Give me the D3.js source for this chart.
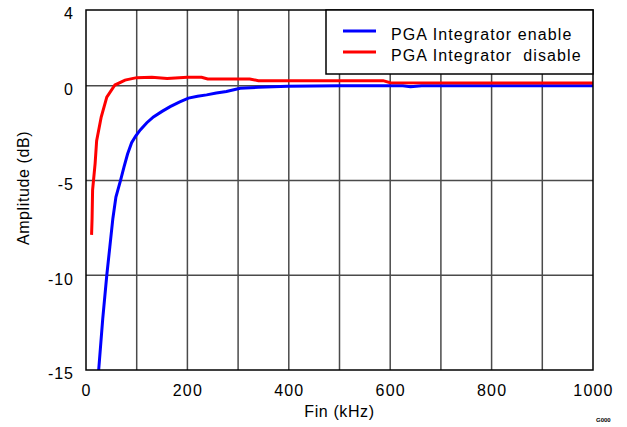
<!DOCTYPE html>
<html><head><meta charset="utf-8">
<script src="https://d3js.org/d3.v7.min.js"></script>
<style>body{margin:0;background:#fff}svg{display:block}text{font-family:Arial,"Liberation Sans",sans-serif}</style>
</head><body>
<svg id="c" width="627" height="427"></svg>
<script>
const xTicks = [0, 200, 400, 600, 800, 1000];
const xGrid = [100, 200, 300, 400, 500, 600, 700, 800, 900];
const yTicks = [4, 0, -5, -10, -15];
const yGrid = [0, -5, -10];
const seriesNames = ["PGA Integrator enable", "PGA Integrator  disable"];
const seriesColors = ["#0000ff", "#ff0000"];
// Blue: PGA Integrator enable (Fin kHz, dB)
const enableF = [25, 33, 41, 47, 53, 59, 68, 75, 82, 90, 98, 107, 120, 133, 150, 166, 185, 202, 220, 238, 257, 277, 304, 340, 398, 500, 625, 640, 662, 700, 800, 900, 1000];
const enableDb = [-15, -12.3, -10, -8.5, -7.0, -5.87, -5.0, -4.28, -3.6, -3.0, -2.65, -2.33, -1.95, -1.64, -1.35, -1.1, -0.85, -0.65, -0.55, -0.48, -0.38, -0.3, -0.13, -0.08, -0.02, 0, 0, -0.05, 0, 0, 0, 0, 0];
// Red: PGA Integrator disable
const disableF = [11, 12, 13, 18, 21, 30, 41, 57, 77, 100, 130, 160, 200, 228, 240, 323, 340, 586, 600, 800, 1000];
const disableDb = [-7.87, -7.0, -5.5, -4.1, -2.9, -1.65, -0.6, 0.04, 0.3, 0.43, 0.45, 0.38, 0.45, 0.45, 0.36, 0.36, 0.27, 0.27, 0.16, 0.15, 0.15];

const svg = d3.select("#c");
const L = 86, R = 593, T = 10, B = 370;
const x = d3.scaleLinear().domain([0, 1000]).range([L, R]);
const y = d3.scaleLinear().domain([-15, 4]).range([B, T]);

// grid
svg.append("g").selectAll("line").data(xGrid).join("line")
  .attr("x1", d => x(d)).attr("x2", d => x(d)).attr("y1", T).attr("y2", B)
  .attr("stroke", "#4a4a4a").attr("stroke-width", 1.5);
svg.append("g").selectAll("line").data(yGrid).join("line")
  .attr("y1", d => y(d)).attr("y2", d => y(d)).attr("x1", L).attr("x2", R)
  .attr("stroke", "#4a4a4a").attr("stroke-width", 1.5);

const fmt = d => String(d);
// axes (labels only)
const xAxis = d3.axisBottom(x).tickValues(xTicks).tickSize(0).tickPadding(0).tickFormat(fmt);
const gx = svg.append("g").attr("transform", `translate(0,${B})`).call(xAxis);
gx.select(".domain").remove();
gx.selectAll("text").attr("y", 26).attr("dy", null).attr("font-size", 16).attr("letter-spacing", "1.2px").attr("fill", "#000").attr("font-family", "Arial, 'Liberation Sans', sans-serif");

const yAxis = d3.axisLeft(y).tickValues(yTicks).tickSize(0).tickPadding(0).tickFormat(fmt);
const gy = svg.append("g").attr("transform", `translate(${L},0)`).call(yAxis);
gy.select(".domain").remove();
gy.selectAll("text").attr("x", -12).attr("dy", "0.55em").attr("font-size", 16).attr("letter-spacing", "1px").attr("fill", "#000").attr("font-family", "Arial, 'Liberation Sans', sans-serif");

// lines
const line = d3.line().x(d => x(d[0])).y(d => y(d[1]));
const enable = enableF.map((f, i) => [f, enableDb[i]]);
const disable = disableF.map((f, i) => [f, disableDb[i]]);
svg.append("clipPath").attr("id", "pc").append("rect").attr("x", L).attr("y", T).attr("width", R - L).attr("height", B - T);
[enable, disable].forEach((s, i) => {
  svg.append("path").datum(s).attr("d", line).attr("fill", "none")
    .attr("stroke", seriesColors[i]).attr("stroke-width", 3).attr("clip-path", "url(#pc)");
});

// border
svg.append("rect").attr("x", L).attr("y", T).attr("width", R - L).attr("height", B - T)
  .attr("fill", "none").attr("stroke", "#000").attr("stroke-width", 1.5);

// legend
const lg = svg.append("g");
lg.append("rect").attr("x", 326).attr("y", T).attr("width", R - 326).attr("height", 64)
  .attr("fill", "#fff").attr("stroke", "#000").attr("stroke-width", 1.5);
seriesNames.forEach((n, i) => {
  const yy = 31 + i * 21;
  lg.append("line").attr("x1", 343).attr("x2", 376).attr("y1", yy).attr("y2", yy)
    .attr("stroke", seriesColors[i]).attr("stroke-width", 3);
  lg.append("text").attr("x", 391).attr("y", yy + 9).attr("font-size", 16).attr("letter-spacing", "1.1px")
    .attr("xml:space", "preserve").style("white-space", "pre").text(n);
});

// axis titles
svg.append("text").attr("x", (L + R) / 2).attr("y", 417).attr("text-anchor", "middle")
  .attr("font-size", 16).attr("letter-spacing", "0.6px").text("Fin (kHz)");
svg.append("text").attr("transform", `translate(29,188) rotate(-90)`).attr("text-anchor", "middle")
  .attr("font-size", 16).attr("letter-spacing", "0.6px").text("Amplitude (dB)");
svg.append("text").attr("x", 596).attr("y", 422).attr("font-size", 6).attr("font-weight", "bold").text("G000");
</script>
</body></html>
